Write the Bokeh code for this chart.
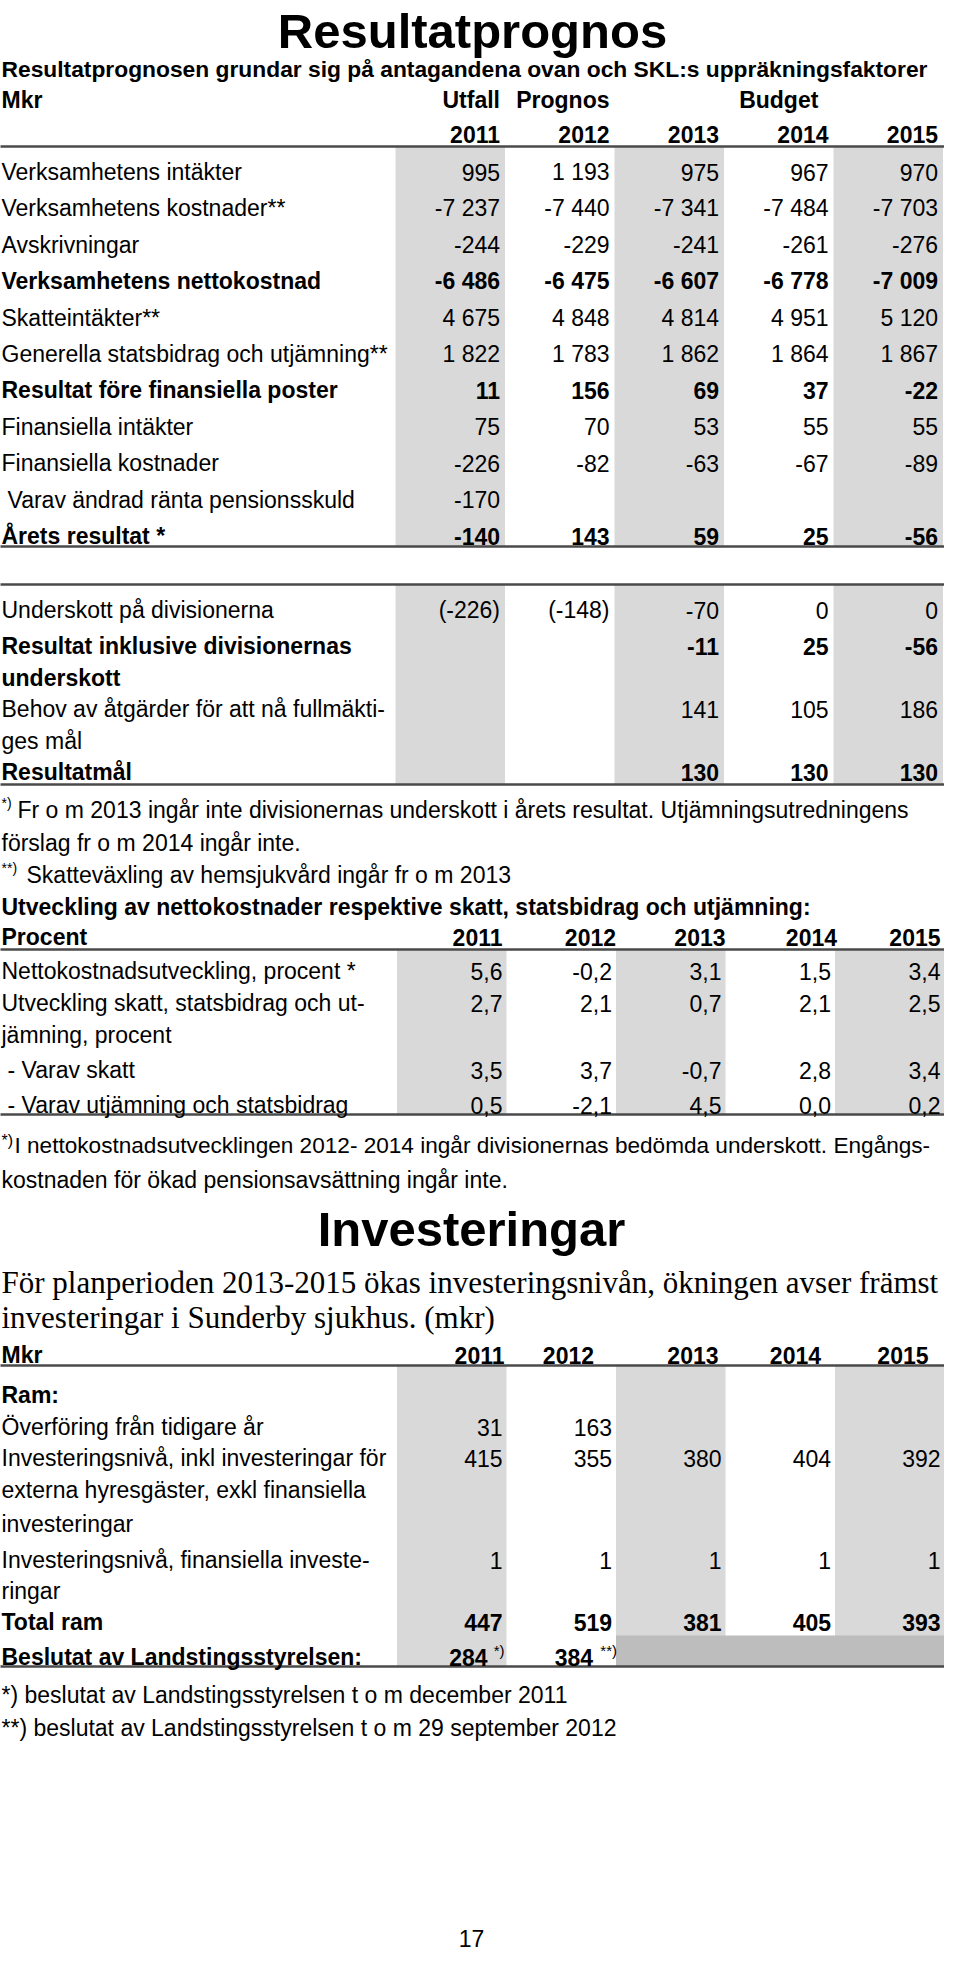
from bokeh.plotting import figure
from bokeh.models import Range1d, ColumnDataSource
from bokeh.embed import file_html
from bokeh.resources import INLINE
from bokeh.core.properties import value

# ---------------- data ----------------
title_1 = "Resultatprognos"
subtitle_1 = "Resultatprognosen grundar sig på antagandena ovan och SKL:s uppräkningsfaktorer"
unit_1 = "Mkr"
col_groups_1 = ["Utfall", "Prognos", "Budget"]
years = ["2011", "2012", "2013", "2014", "2015"]

t1_labels = ["Verksamhetens intäkter", "Verksamhetens kostnader**", "Avskrivningar",
             "Verksamhetens nettokostnad", "Skatteintäkter**",
             "Generella statsbidrag och utjämning**", "Resultat före finansiella poster",
             "Finansiella intäkter", "Finansiella kostnader",
             "Varav ändrad ränta pensionsskuld", "Årets resultat *"]
t1_bold = [False, False, False, True, False, False, True, False, False, False, True]
t1_indent = [0, 0, 0, 0, 0, 0, 0, 0, 0, 1, 0]
t1_2011 = [995, -7237, -244, -6486, 4675, 1822, 11, 75, -226, -170, -140]
t1_2012 = [1193, -7440, -229, -6475, 4848, 1783, 156, 70, -82, None, 143]
t1_2013 = [975, -7341, -241, -6607, 4814, 1862, 69, 53, -63, None, 59]
t1_2014 = [967, -7484, -261, -6778, 4951, 1864, 37, 55, -67, None, 25]
t1_2015 = [970, -7703, -276, -7009, 5120, 1867, -22, 55, -89, None, -56]

t2_labels = [["Underskott på divisionerna"],
             ["Resultat inklusive divisionernas", "underskott"],
             ["Behov av åtgärder för att nå fullmäkti-", "ges mål"],
             ["Resultatmål"]]
t2_bold = [False, True, False, True]
t2_paren = [True, False, False, False]
t2_2011 = [-226, None, None, None]
t2_2012 = [-148, None, None, None]
t2_2013 = [-70, -11, 141, 130]
t2_2014 = [0, 25, 105, 130]
t2_2015 = [0, -56, 186, 130]

notes_1 = [("*)", "Fr o m 2013 ingår inte divisionernas underskott i årets resultat. Utjämningsutredningens"),
           ("", "förslag fr o m 2014 ingår inte."),
           ("**)", "Skatteväxling av hemsjukvård ingår fr o m 2013")]
heading_3 = "Utveckling av nettokostnader respektive skatt, statsbidrag och utjämning:"
unit_3 = "Procent"
t3_labels = [["Nettokostnadsutveckling, procent *"],
             ["Utveckling skatt, statsbidrag och ut-", "jämning, procent"],
             ["- Varav skatt"],
             ["- Varav utjämning och statsbidrag"]]
t3_indent = [0, 0, 1, 1]
t3_2011 = [5.6, 2.7, 3.5, 0.5]
t3_2012 = [-0.2, 2.1, 3.7, -2.1]
t3_2013 = [3.1, 0.7, -0.7, 4.5]
t3_2014 = [1.5, 2.1, 2.8, 0.0]
t3_2015 = [3.4, 2.5, 3.4, 0.2]
notes_3 = [("*)", "I nettokostnadsutvecklingen 2012- 2014 ingår divisionernas bedömda underskott. Engångs-"),
           ("", "kostnaden för ökad pensionsavsättning ingår inte.")]

title_2 = "Investeringar"
intro_2 = ["För planperioden 2013-2015 ökas investeringsnivån, ökningen avser främst",
           "investeringar i Sunderby sjukhus. (mkr)"]
unit_4 = "Mkr"
t4_labels = [["Ram:"], ["Överföring från tidigare år"],
             ["Investeringsnivå, inkl investeringar för", "externa hyresgäster, exkl finansiella",
              "investeringar"],
             ["Investeringsnivå, finansiella investe-", "ringar"],
             ["Total ram"], ["Beslutat av Landstingsstyrelsen:"]]
t4_bold = [True, False, False, False, True, True]
t4_2011 = [None, 31, 415, 1, 447, 284]
t4_2012 = [None, 163, 355, 1, 519, 384]
t4_2013 = [None, None, 380, 1, 381, None]
t4_2014 = [None, None, 404, 1, 405, None]
t4_2015 = [None, None, 392, 1, 393, None]
t4_marks = {(5, 0): "*)", (5, 1): "**)"}
notes_4 = ["*) beslutat av Landstingsstyrelsen t o m december 2011",
           "**) beslutat av Landstingsstyrelsen t o m 29 september 2012"]
page_no = "17"

# ---------------- helpers ----------------
def fmt_int(v):
    if v is None:
        return ""
    s = f"{abs(v):,}".replace(",", " ")
    return ("-" if v < 0 else "") + s


def fmt_dec(v):
    if v is None:
        return ""
    return f"{v:.1f}".replace(".", ",")


SANS = "Liberation Sans"
SERIF = "Liberation Serif"
FS = 23
groups = {}


def add(x, y, s, size=FS, bold=False, align="left", font=SANS):
    key = (font, size, bold, align)
    g = groups.setdefault(key, dict(x=[], y=[], text=[]))
    g["x"].append(x)
    g["y"].append(y)
    g["text"].append(s)


def base(center, size=FS):
    return center + 0.33 * size


p = figure(width=944, height=1952, x_range=Range1d(8, 952), y_range=Range1d(1960, 8),
           output_backend="svg", toolbar_location=None, min_border=0,
           x_axis_location=None, y_axis_location=None)
p.grid.visible = False
p.outline_line_color = None
p.background_fill_color = "white"
p.border_fill_color = "white"

LIGHT = "#d9d9d9"
DARK = "#bdbdbd"
RULE = "#4a4a4a"
LX = 9
XR = 952

# column geometry for the two table layouts
CW = 109.5
colA = [403 + CW * i for i in range(5)]
colB = [404.5 + CW * i for i in range(5)]
rightA = [c + CW - 5 for c in colA]
rightB = [min(c + CW - 4, XR - 3) for c in colB]

band_l, band_r, band_t, band_b, band_c = [], [], [], [], []
seg_x0, seg_x1, seg_y = [], [], []


def bands(cols, top, bottom):
    for i in (0, 2, 4):
        band_l.append(cols[i]); band_r.append(min(cols[i] + CW, XR))
        band_t.append(top); band_b.append(bottom); band_c.append(LIGHT)


def rule(y, x0=4, x1=XR):
    seg_x0.append(x0); seg_x1.append(x1); seg_y.append(y)


# ---- title / header ----
add(480, 38, title_1, size=49, bold=True, align="center")
add(LX, 76, subtitle_1, size=22.8, bold=True)
add(LX, 107, unit_1, bold=True)
add(rightA[0], 107, col_groups_1[0], bold=True, align="right")
add(rightA[1], 107, col_groups_1[1], bold=True, align="right")
add((colA[2] + colA[4] + CW) / 2, 107, col_groups_1[2], bold=True, align="center")
for j, yr in enumerate(years):
    add(rightA[j], 142, yr, bold=True, align="right")

# ---- table 1 ----
T1_TOP, T1_BOT = 154, 554
bands(colA, T1_TOP, T1_BOT)
rule(T1_TOP); rule(T1_BOT)
cols1 = [t1_2011, t1_2012, t1_2013, t1_2014, t1_2015]
for i, lab in enumerate(t1_labels):
    yc = 172 + 36.4 * i
    add(LX + 6 * t1_indent[i], base(yc), lab, bold=t1_bold[i])
    for j in range(5):
        add(rightA[j], base(yc), fmt_int(cols1[j][i]), bold=t1_bold[i], align="right")

# ---- table 2 ----
T2_TOP, T2_BOT = 592, 792
bands(colA, T2_TOP, T2_BOT)
rule(T2_TOP); rule(T2_BOT)
cols2 = [t2_2011, t2_2012, t2_2013, t2_2014, t2_2015]
t2_lines = [[610], [646, 678], [709, 741], [772]]
for i, lines in enumerate(t2_labels):
    for k, ln in enumerate(lines):
        add(LX, base(t2_lines[i][k]), ln, bold=t2_bold[i])
    for j in range(5):
        s = fmt_int(cols2[j][i])
        if s and t2_paren[i] and j < 2:
            s = "(" + s + ")"
        add(rightA[j], base(t2_lines[i][0]), s, bold=t2_bold[i], align="right")

# ---- notes 1 ----
for (mark, txt), yc in zip(notes_1, [810, 843, 875]):
    b = base(yc)
    if mark:
        add(LX, b - 7, mark, size=14)
        add(LX + (16 if len(mark) == 2 else 25), b, txt)
    else:
        add(LX, b, txt)
add(LX, base(907), heading_3, bold=True)
add(LX, base(937), unit_3, bold=True)
hdr3_shift = [0, 4, 4, 6, 0]
for j, yr in enumerate(years):
    add(min(rightB[j] + hdr3_shift[j], XR - 3), base(937), yr, bold=True, align="right")

# ---- table 3 ----
T3_TOP, T3_BOT = 957, 1122
bands(colB, T3_TOP, T3_BOT)
rule(T3_TOP); rule(T3_BOT)
cols3 = [t3_2011, t3_2012, t3_2013, t3_2014, t3_2015]
t3_lines = [[971], [1003, 1035], [1070], [1105]]
for i, lines in enumerate(t3_labels):
    for k, ln in enumerate(lines):
        add(LX + 6 * t3_indent[i], base(t3_lines[i][k]), ln)
    for j in range(5):
        add(rightB[j], base(t3_lines[i][0]), fmt_dec(cols3[j][i]), align="right")

for (mark, txt), yc in zip(notes_3, [1145, 1180]):
    b = base(yc)
    if mark:
        add(LX, b - 5, mark, size=16)
        add(LX + 13, b, txt, size=22.6)
    else:
        add(LX, b, txt)

# ---- investeringar ----
add(479, 1236, title_2, size=49, bold=True, align="center")
add(LX, 1290, intro_2[0], size=31, font=SERIF)
add(LX, 1325, intro_2[1], size=31, font=SERIF)

add(LX, base(1355), unit_4, bold=True)
hdr4_shift = [2, -18, -3, -10, -12]
for j, yr in enumerate(years):
    add(rightB[j] + hdr4_shift[j], base(1355), yr, bold=True, align="right")

T4_TOP, T4_BOT = 1373, 1674
bands(colB, T4_TOP, T4_BOT)
band_l.append(colB[2]); band_r.append(XR)
band_t.append(1643); band_b.append(T4_BOT); band_c.append(DARK)
rule(T4_TOP); rule(T4_BOT)
cols4 = [t4_2011, t4_2012, t4_2013, t4_2014, t4_2015]
t4_lines = [[1395], [1427], [1458, 1490, 1524], [1560, 1591], [1622], [1657]]
for i, lines in enumerate(t4_labels):
    for k, ln in enumerate(lines):
        add(LX, base(t4_lines[i][k]), ln, bold=t4_bold[i])
    for j in range(5):
        s = fmt_int(cols4[j][i])
        if not s:
            continue
        mark = t4_marks.get((i, j))
        if mark:
            mx = rightB[j] + (2 if len(mark) == 2 else 5)
            add(mx, base(t4_lines[i][0]) - 7, mark, size=15, align="right")
            add(mx - (17 if len(mark) == 2 else 24), base(t4_lines[i][0]), s,
                bold=t4_bold[i], align="right")
        else:
            add(rightB[j], base(t4_lines[i][0]), s, bold=t4_bold[i], align="right")

for txt, yc in zip(notes_4, [1695, 1728]):
    add(LX, base(yc), txt)

add(479, 1946, page_no, align="center")

# ---- draw ----
p.quad(left=band_l, right=band_r, top=band_t, bottom=band_b, fill_color=band_c, line_color=None)
p.segment(x0=seg_x0, y0=seg_y, x1=seg_x1, y1=seg_y, line_color=RULE, line_width=2.5)
for (font, size, bold, align), g in groups.items():
    p.text(x="x", y="y", text="text", source=ColumnDataSource(g),
           text_font=value(font), text_font_size=value(f"{size}px"),
           text_font_style="bold" if bold else "normal",
           text_align=align, text_baseline="alphabetic", text_color="black")

open("out.html", "w").write(file_html(p, INLINE))
